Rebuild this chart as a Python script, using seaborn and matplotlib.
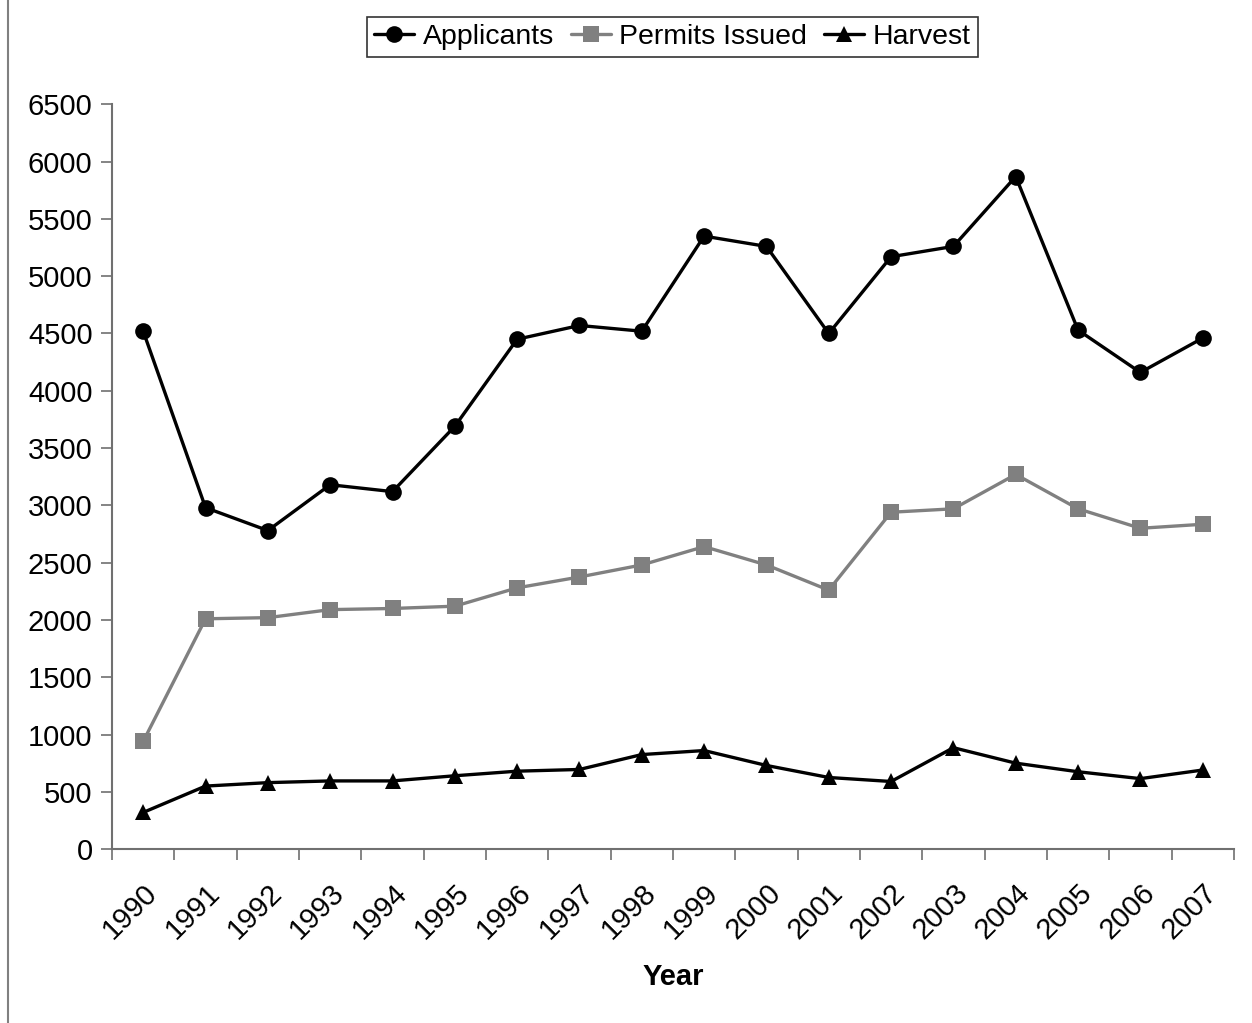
import matplotlib
matplotlib.use("Agg")
import matplotlib.pyplot as plt
from matplotlib.lines import Line2D
import numpy as np
import pandas as pd
import seaborn as sns

years = [str(y) for y in range(1990, 2008)]
applicants = [4520, 2980, 2780, 3180, 3120, 3690, 4450, 4570, 4520, 5350,
              5260, 4500, 5170, 5260, 5870, 4530, 4160, 4460]
permits = [940, 2010, 2020, 2090, 2100, 2120, 2280, 2375, 2480, 2640,
           2480, 2260, 2940, 2970, 3270, 2970, 2800, 2835]
harvest = [320, 550, 580, 595, 595, 640, 680, 695, 825, 860,
           730, 625, 590, 885, 750, 675, 615, 690]

series = ["Applicants", "Permits Issued", "Harvest"]
df = pd.DataFrame({
    "idx": list(range(len(years))) * 3,
    "value": applicants + permits + harvest,
    "series": np.repeat(series, len(years)),
})

sns.set_style("white")
plt.rcParams['font.family'] = ['Liberation Sans', 'DejaVu Sans']
plt.rcParams['text.color'] = 'black'
plt.rcParams['axes.labelcolor'] = 'black'

fig = plt.figure(figsize=(12.52, 10.23), dpi=100)
ax = fig.add_axes([0.0895, 0.170, 0.896, 0.728])

palette = {"Applicants": "black", "Permits Issued": "#808080", "Harvest": "black"}
markers = {"Applicants": "o", "Permits Issued": "s", "Harvest": "^"}
sns.lineplot(data=df, x="idx", y="value", hue="series", style="series",
             palette=palette, markers=markers, dashes=False, linewidth=2.4,
             markersize=12, markeredgewidth=0, ax=ax, legend=True)

ax.set_xlim(-0.5, len(years) - 0.5)
ax.set_ylim(0, 6500)
ax.set_yticks(range(0, 6501, 500))
ax.tick_params(axis='y', left=True, labelsize=21, labelcolor='black', length=8,
               width=1.2, color='#707070', direction='out', pad=6)
ax.set_xticks(range(len(years)))
ax.set_xticklabels(years, rotation=45, ha='right', rotation_mode='anchor',
                   fontsize=21)
ax.tick_params(axis='x', which='major', bottom=False, labelcolor='black', pad=18)
ax.set_xticks(np.arange(-0.5, len(years)), minor=True)
ax.tick_params(axis='x', which='minor', bottom=True, length=8, width=1.2,
               color='#707070', direction='out')
for s in ['top', 'right']:
    ax.spines[s].set_visible(False)
for s in ['left', 'bottom']:
    ax.spines[s].set_color('#707070')
    ax.spines[s].set_linewidth(1.5)

ax.set_xlabel("Year", fontsize=21, fontweight='bold', labelpad=13)
ax.set_ylabel("")

handles, labels = ax.get_legend_handles_labels()
ax.legend(handles, labels, ncol=3, loc='center', bbox_to_anchor=(0.537, 0.964),
          bbox_transform=fig.transFigure, fontsize=20.5, frameon=True,
          fancybox=False, edgecolor='black', handlelength=1.4,
          handletextpad=0.3, columnspacing=0.6, borderpad=0.25)
leg = ax.get_legend()
leg.get_frame().set_linewidth(1.2)

fig.add_artist(Line2D([0.0065, 0.0065], [0, 1], transform=fig.transFigure,
                      color='#808080', linewidth=1.5))

fig.savefig("out.png", dpi=100)
